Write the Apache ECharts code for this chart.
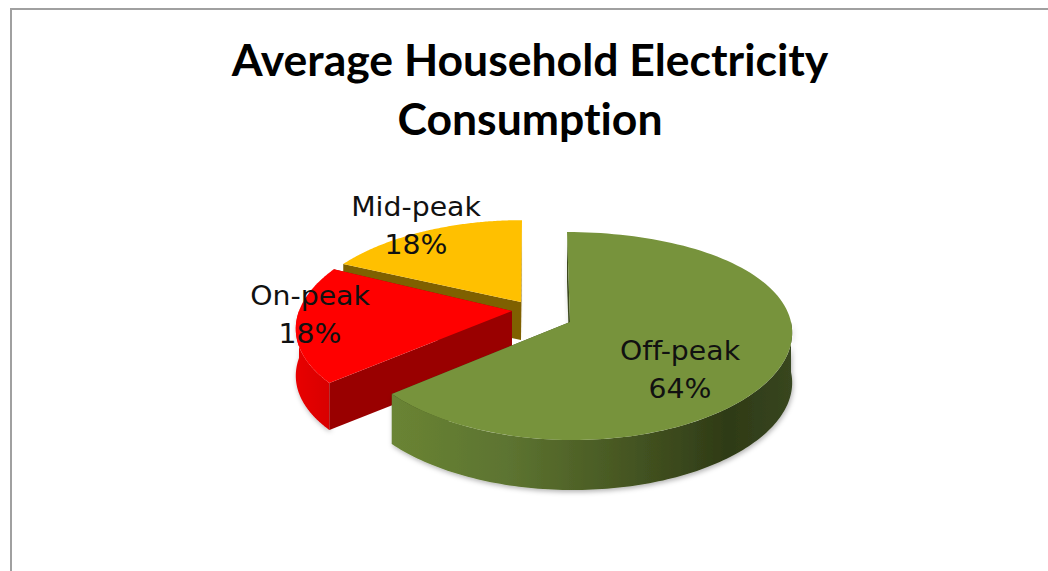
<!DOCTYPE html>
<html>
<head>
<meta charset="utf-8">
<script src="https://cdn.jsdelivr.net/npm/echarts@6/dist/echarts.min.js"></script>
<style>
html,body{margin:0;padding:0;background:#fff}
#c{width:1048px;height:571px}
svg text, svg tspan{font-variant-ligatures:none !important}
</style>
</head>
<body>
<div id="c"></div>
<script>
var titleText = 'Average Household Electricity\nConsumption';
var categories = ['Off-peak', 'On-peak', 'Mid-peak'];
var shares = [64, 18, 18];

// Styling and placement of the exploded 3D look
var topColors = ['#77933c', '#ff0000', '#ffc000'];
var cutColors = ['#3c4a1d', '#990000', '#7f6000'];
var wallStops = [
  [[0, '#6a8434'], [0.3, '#5c7330'], [0.5, '#4d5f26'], [0.72, '#3a481c'], [0.84, '#2e3a16'], [1, '#384620']],
  [[0, '#e80000'], [1, '#d80000']],
  [[0, '#7f6000'], [1, '#7f6000']]
];
var apexX = [570, 512, 521];
var apexY = [322, 311, 302];
var radiusX = [221, 213, 213];
var perspX = [0.09, 0.177, 0.177];
var skewX = [3, 0, -1];
var scaleY = [1, 1, 0.91];
var depths = [50, 47, 38];
var labelX = [680, 310, 416];
var labelY = [370, 315, 226];
var RY = 104, KY = 0.135;

var total = shares.reduce(function (a, b) { return a + b; }, 0);

function project(i, ang) {
  var u = Math.sin(ang), v = -Math.cos(ang);
  return [
    apexX[i] + u * radiusX[i] * (1 + perspX[i] * v) + skewX[i] * v,
    apexY[i] + v * RY * (1 + KY * v) * scaleY[i]
  ];
}
function arcPoints(i, a0, a1) {
  var n = 120, pts = [];
  for (var k = 0; k <= n; k++) pts.push(project(i, a0 + (a1 - a0) * k / n));
  return pts;
}
function shifted(pts, d) {
  return pts.map(function (p) { return [p[0], p[1] + d]; });
}

var tableData = categories.map(function (name, i) { return [shares[i], i]; });

function renderSlice(params, api) {
  var i = api.value(1), before = 0;
  for (var j = 0; j < i; j++) before += shares[j];
  var a0 = before / total * 2 * Math.PI;
  var a1 = (before + shares[i]) / total * 2 * Math.PI;
  var d = depths[i];
  var arc = arcPoints(i, a0, a1);
  var apex = [apexX[i], apexY[i]];
  var first = arc[0], last = arc[arc.length - 1];
  var shadow = { shadowBlur: 5, shadowColor: 'rgba(0,0,0,0.3)', shadowOffsetX: 1, shadowOffsetY: 2 };
  var wallFill = new echarts.graphic.LinearGradient(0, 0, 1, 0,
    wallStops[i].map(function (s) { return { offset: s[0], color: s[1] }; }));
  function poly(points, style) {
    return { type: 'polygon', shape: { points: points }, style: style };
  }
  function cut(p, angle) {
    var upright = Math.abs(Math.sin(angle)) < 0.01;
    return poly([p, apex, [apex[0], apex[1] + d], [p[0], p[1] + d]],
      upright ? Object.assign({ fill: cutColors[i] }, shadow) : { fill: cutColors[i] });
  }
  var behind = [], front = [];
  (Math.sin(a0) < -0.01 ? front : behind).push(cut(first, a0));
  (Math.sin(a1) > 0.01 ? front : behind).push(cut(last, a1));

  // The outer wall only shows on the half of the rim facing the viewer
  var w0 = Math.max(a0, Math.PI / 2), w1 = Math.min(a1, 3 * Math.PI / 2);
  var wall = [];
  if (w1 > w0) {
    var rim = arcPoints(i, w0, w1);
    wall.push(poly(rim.concat(shifted(rim, d).reverse()),
      Object.assign({ fill: wallFill }, shadow)));
  }
  var kids = behind.concat(wall, front, [
    poly([apex].concat(arc), { fill: topColors[i] }),
    {
      type: 'text', z2: 50,
      x: labelX[i], y: labelY[i], scaleX: 1.09,
      style: {
        x: 0, y: 0,
        text: categories[i] + '\n' + api.value(0) + '%',
        fill: '#111', font: '26px "DejaVu Sans"',
        lineHeight: 38, align: 'center', verticalAlign: 'middle'
      }
    }
  ]);
  return { type: 'group', children: kids };
}

var chart = echarts.init(document.getElementById('c'), null, { renderer: 'svg' });
chart.setOption({
  animation: false,
  backgroundColor: '#fff',
  title: {
    text: titleText, left: 525, top: 24, textAlign: 'center',
    textStyle: { fontFamily: 'Lato', fontWeight: 'bold', fontSize: 44.5, lineHeight: 59, color: '#000' }
  },
  graphic: [{
    type: 'polyline', silent: true,
    shape: { points: [[1048, 9], [11, 9], [11, 571]] },
    style: { stroke: '#a0a0a0', lineWidth: 2, fill: 'none' }
  }],
  series: [{
    type: 'custom', coordinateSystem: 'none',
    renderItem: renderSlice,
    // Paint back to front: mid-peak, on-peak, off-peak
    data: tableData.slice().reverse()
  }]
});
</script>
</body>
</html>
